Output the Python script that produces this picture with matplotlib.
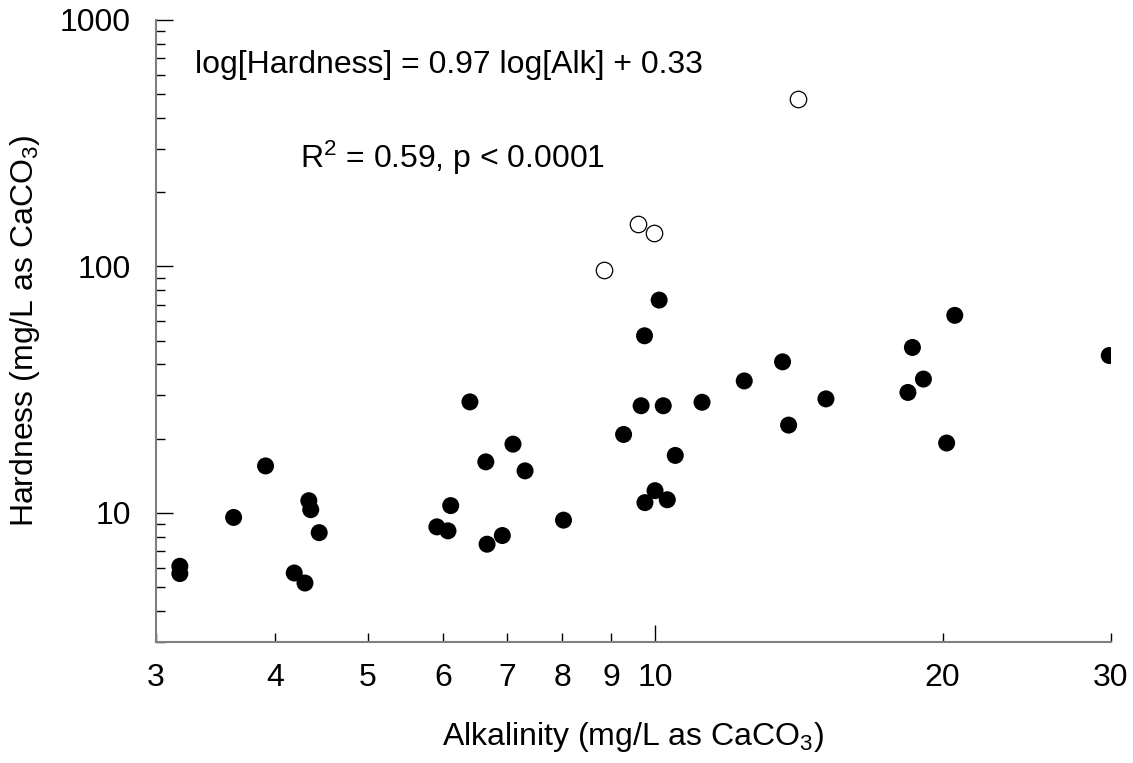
import matplotlib
matplotlib.use('Agg')
import matplotlib.pyplot as plt
from matplotlib.ticker import FixedLocator, NullFormatter, FixedFormatter

plt.rcParams['font.family'] = ['Liberation Sans', 'DejaVu Sans']
plt.rcParams['mathtext.fontset'] = 'custom'
plt.rcParams['mathtext.rm'] = 'Liberation Sans'
plt.rcParams['mathtext.it'] = 'Liberation Sans'

# streams used in the regression (filled)
alk = [3.18, 3.18, 3.62, 3.91, 4.34, 4.36, 4.45, 4.19, 4.30,
       5.91, 6.07, 6.11, 6.40, 6.65, 6.67, 6.92, 7.10, 7.31, 8.02,
       9.27, 9.67, 9.75, 9.76, 10.0, 10.1, 10.2, 10.3, 10.5, 11.2,
       12.4, 13.6, 13.8, 15.1, 18.4, 18.6, 19.1, 20.2, 20.6, 29.9]
hard = [6.07, 5.67, 9.58, 15.5, 11.2, 10.3, 8.31, 5.70, 5.19,
        8.77, 8.45, 10.7, 28.2, 16.1, 7.46, 8.09, 19.0, 14.8, 9.34,
        20.8, 27.2, 52.3, 11.0, 12.3, 73.0, 27.2, 11.3, 17.1, 28.1,
        34.3, 41.0, 22.7, 29.0, 30.8, 46.9, 34.9, 19.2, 63.3, 43.5]

# excluded outliers (open)
alk_out = [8.84, 9.60, 9.97, 14.1]
hard_out = [96.5, 149, 137, 480]

x_ticks = [3, 4, 5, 6, 7, 8, 9, 20, 30]

fig = plt.figure(figsize=(11.33, 7.63), dpi=100)
ax = fig.add_axes([0.1374, 0.159, 0.8429, 0.8148])

ax.scatter(alk, hard, s=150, c='black', edgecolors='none', zorder=3)
ax.scatter(alk_out, hard_out, s=140, facecolors='white', edgecolors='black',
           linewidths=0.9, zorder=3)

ax.set_xscale('log')
ax.set_yscale('log')
ax.set_xlim(3, 30)
ax.set_ylim(3, 1000)

for side in ['top', 'right']:
    ax.spines[side].set_visible(False)
for side in ['left', 'bottom']:
    ax.spines[side].set_color('#808080')
    ax.spines[side].set_linewidth(1.5)

ax.xaxis.set_major_locator(FixedLocator([10]))
ax.xaxis.set_major_formatter(FixedFormatter(['10']))
ax.xaxis.set_minor_locator(FixedLocator(x_ticks))
ax.xaxis.set_minor_formatter(FixedFormatter([str(v) for v in x_ticks]))

ax.yaxis.set_major_locator(FixedLocator([10, 100, 1000]))
ax.yaxis.set_major_formatter(FixedFormatter(['10', '100', '1000']))
y_minor = [m * d for d in (1, 10, 100) for m in range(2, 10)]
ax.yaxis.set_minor_locator(FixedLocator(y_minor))
ax.yaxis.set_minor_formatter(NullFormatter())

ax.tick_params(which='both', direction='in', color='black', width=1, labelsize=23)
ax.tick_params(which='major', length=12)
ax.tick_params(which='minor', length=6.5)
ax.tick_params(axis='x', which='both', pad=15)
ax.tick_params(axis='y', which='both', pad=18)

ax.set_xlabel('Alkalinity (mg/L as CaCO$_3$)', fontsize=23, labelpad=20)
ax.set_ylabel('Hardness (mg/L as CaCO$_3$)', fontsize=23, labelpad=13)

ax.text(0.041, 0.928, 'log[Hardness] = 0.97 log[Alk] + 0.33', transform=ax.transAxes,
        fontsize=23, va='center', ha='left')
ax.text(0.151, 0.778, 'R$^2$ = 0.59, p < 0.0001', transform=ax.transAxes,
        fontsize=23, va='center', ha='left')

fig.savefig('out.png', dpi=100)
